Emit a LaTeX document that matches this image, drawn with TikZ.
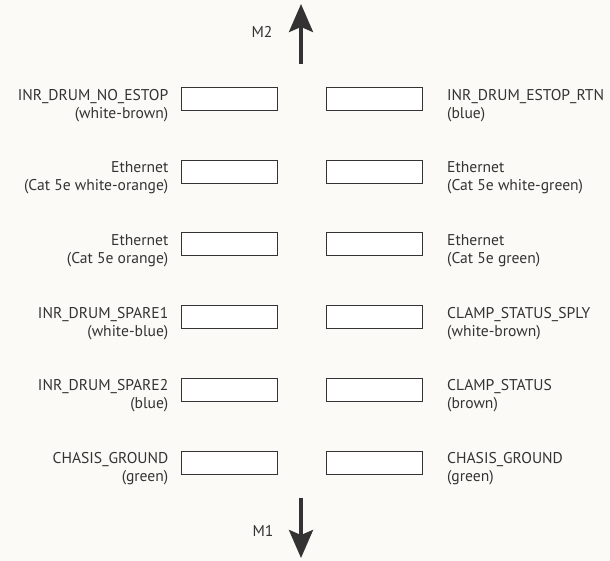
\documentclass[tikz,border=0pt]{standalone}
\usepackage{fontspec}
\setmainfont{PT Sans}
\usetikzlibrary{arrows.meta,positioning}
\definecolor{paper}{HTML}{FCFAF6}
\definecolor{ink}{HTML}{333333}
\tikzset{
  pin/.style={draw=ink,line width=1pt,fill=white,minimum width=96pt,minimum height=23pt,inner sep=0pt},
  lbl/.style={text=ink,inner sep=0pt,font=\fontsize{15.6}{18}\selectfont},
  bigarrow/.style={draw=ink,line width=3.5pt,-{Stealth[length=28pt,width=24pt,inset=5pt]}}
}
\begin{document}
\begin{tikzpicture}[x=1pt,y=-1pt]
\useasboundingbox[fill=paper] (0,0) rectangle (610,561);
\node[pin] (L1) at (229,99.5){};
\node[pin] (R1) at (374.5,99.5){};
\node[pin] (L2) at (229,172){};
\node[pin] (R2) at (374.5,172){};
\node[pin] (L3) at (229,244.5){};
\node[pin] (R3) at (374.5,244.5){};
\node[pin] (L4) at (229,317){};
\node[pin] (R4) at (374.5,317){};
\node[pin] (L5) at (229,389.5){};
\node[pin] (R5) at (374.5,389.5){};
\node[pin] (L6) at (229,462.5){};
\node[pin] (R6) at (374.5,462.5){};
\node[lbl,align=right,left=12pt of L1.west,yshift=-19pt,anchor=base east] (tL1) {INR\_DRUM\_NO\_ESTOP\\(white-brown)};
\node[lbl,align=left,right=24pt of R1.east,yshift=-19pt,anchor=base west] (tR1) {INR\_DRUM\_ESTOP\_RTN\\(blue)};
\node[lbl,align=right,left=12pt of L2.west,yshift=-19pt,anchor=base east] (tL2) {Ethernet\\(Cat 5e white-orange)};
\node[lbl,align=left,right=24pt of R2.east,yshift=-19pt,anchor=base west] (tR2) {Ethernet\\(Cat 5e white-green)};
\node[lbl,align=right,left=12pt of L3.west,yshift=-19pt,anchor=base east] (tL3) {Ethernet\\(Cat 5e orange)};
\node[lbl,align=left,right=24pt of R3.east,yshift=-19pt,anchor=base west] (tR3) {Ethernet\\(Cat 5e green)};
\node[lbl,align=right,left=12pt of L4.west,yshift=-19pt,anchor=base east] (tL4) {INR\_DRUM\_SPARE1\\(white-blue)};
\node[lbl,align=left,right=24pt of R4.east,yshift=-19pt,anchor=base west] (tR4) {CLAMP\_STATUS\_SPLY\\(white-brown)};
\node[lbl,align=right,left=12pt of L5.west,yshift=-19pt,anchor=base east] (tL5) {INR\_DRUM\_SPARE2\\(blue)};
\node[lbl,align=left,right=24pt of R5.east,yshift=-19pt,anchor=base west] (tR5) {CLAMP\_STATUS\\(brown)};
\node[lbl,align=right,left=12pt of L6.west,yshift=-19pt,anchor=base east] (tL6) {CHASIS\_GROUND\\(green)};
\node[lbl,align=left,right=24pt of R6.east,yshift=-19pt,anchor=base west] (tR6) {CHASIS\_GROUND\\(green)};
\coordinate (m2a) at (301,64);
\coordinate (m2b) at (301,4);
\coordinate (m1a) at (301,498);
\coordinate (m1b) at (301,558);
\draw[bigarrow] (m2a)--(m2b);
\draw[bigarrow] (m1a)--(m1b);
\node[lbl] (M2) at (262,32){M2};
\node[lbl] (M1) at (263,531){M1};
\end{tikzpicture}
\end{document}
